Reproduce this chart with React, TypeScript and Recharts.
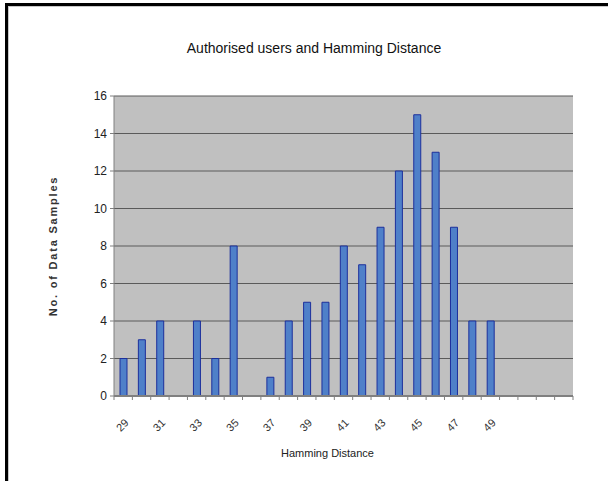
import React from 'react';
import { BarChart, Bar, XAxis, YAxis, CartesianGrid, Label } from 'recharts';

const hammingDistances = [29, 30, 31, 32, 33, 34, 35, 36, 37, 38, 39, 40, 41, 42, 43, 44, 45, 46, 47, 48, 49, 50, 51, 52, 53];
const sampleCounts = [2, 3, 4, 0, 4, 2, 8, 0, 1, 4, 5, 5, 8, 7, 9, 12, 15, 13, 9, 4, 4, 0, 0, 0, 0];
const xTickLabels = ['29', '31', '33', '35', '37', '39', '41', '43', '45', '47', '49'];
const yTicks = [0, 2, 4, 6, 8, 10, 12, 14, 16];

const chartTitle = 'Authorised users and Hamming Distance';
const xTitle = 'Hamming Distance';
const yTitle = 'No. of Data Samples';

const data = hammingDistances.map((d, i) => ({ distance: String(d), count: sampleCounts[i] }));

const W = 608;
const H = 481;
const MARGIN = { top: 96, right: 35, bottom: 0, left: 0 };
const Y_AXIS_W = 114;
const X_AXIS_H = 85;
const PLOT_W = W - Y_AXIS_W - MARGIN.right;
const CAT_W = PLOT_W / data.length;
const FONT = '"Liberation Sans", Arial, sans-serif';

function XTick(props: any) {
  const { x, y, payload, index } = props;
  const label = xTickLabels.includes(String(payload.value)) ? String(payload.value) : '';
  const isLast = index === data.length - 1;
  return (
    <g>
      <line x1={x - CAT_W / 2} x2={x - CAT_W / 2} y1={y - 4} y2={y} stroke="#808080" strokeWidth={1} />
      {isLast && (
        <line x1={x + CAT_W / 2} x2={x + CAT_W / 2} y1={y - 4} y2={y} stroke="#808080" strokeWidth={1} />
      )}
      {label && (
        <text
          x={x - 1}
          y={y + 25}
          transform={`rotate(-45 ${x - 1} ${y + 25})`}
          textAnchor="middle"
          dominantBaseline="central"
          fontSize={11}
          fontFamily={FONT}
          fill="#333"
        >
          {label}
        </text>
      )}
    </g>
  );
}

export default function App() {
  return (
    <div style={{ position: 'absolute', left: 0, top: 0, width: W, height: H, background: '#fff', overflow: 'hidden' }}>
      <div
        style={{
          position: 'absolute',
          left: 5,
          top: 3,
          width: W,
          height: H,
          borderTop: '3px solid #000',
          borderLeft: '3px solid #000',
          boxSizing: 'border-box',
        }}
      >
        <div
          style={{
            position: 'absolute',
            left: 0,
            top: 0,
            width: W,
            height: H,
            borderTop: '1px solid #c8c8c8',
            borderLeft: '1px solid #c8c8c8',
            boxSizing: 'border-box',
          }}
        />
      </div>
      <div
        style={{
          position: 'absolute',
          left: 0,
          top: 39,
          width: 628,
          textAlign: 'center',
          fontFamily: FONT,
          fontSize: 14,
          color: '#111',
          lineHeight: '18px',
        }}
      >
        {chartTitle}
      </div>
      <div style={{ position: 'absolute', left: 0, top: 0 }}>
        <BarChart width={W} height={H} data={data} margin={MARGIN} barSize={7}>
          <CartesianGrid
            vertical={false}
            stroke="#5a5a5a"
            strokeWidth={1}
            fill="#c0c0c0"
            fillOpacity={1}
          />
          <XAxis
            dataKey="distance"
            interval={0}
            height={X_AXIS_H}
            tickSize={4}
            tickMargin={0}
            tickLine={{ stroke: 'none' }}
            axisLine={{ stroke: '#808080', strokeWidth: 2 }}
            tick={<XTick />}
          >
            <Label
              value={xTitle}
              position="insideBottom"
              offset={24}
              dx={-16}
              style={{ fontFamily: FONT, fontSize: 11, fill: '#222' }}
            />
          </XAxis>
          <YAxis
            width={Y_AXIS_W}
            domain={[0, 16]}
            ticks={yTicks}
            interval={0}
            tickSize={4}
            tickMargin={3}
            axisLine={{ stroke: '#808080' }}
            tickLine={{ stroke: '#808080' }}
            tick={{ fontSize: 12, fontFamily: FONT, fill: '#222' }}
          >
            <Label
              value={yTitle}
              angle={-90}
              position="center"
              dx={-4}
              style={{ fontFamily: FONT, fontSize: 11, fontWeight: 'bold', fill: '#333', letterSpacing: 1.8 }}
            />
          </YAxis>
          <YAxis
            yAxisId="right"
            orientation="right"
            width={0}
            domain={[0, 16]}
            tick={false}
            tickLine={false}
            axisLine={{ stroke: '#9a9a9a' }}
          />
          <Bar
            dataKey="count"
            fill="#4f80c9"
            stroke="#1c2f9c"
            strokeWidth={1}
            isAnimationActive={false}
          />
        </BarChart>
      </div>
    </div>
  );
}
